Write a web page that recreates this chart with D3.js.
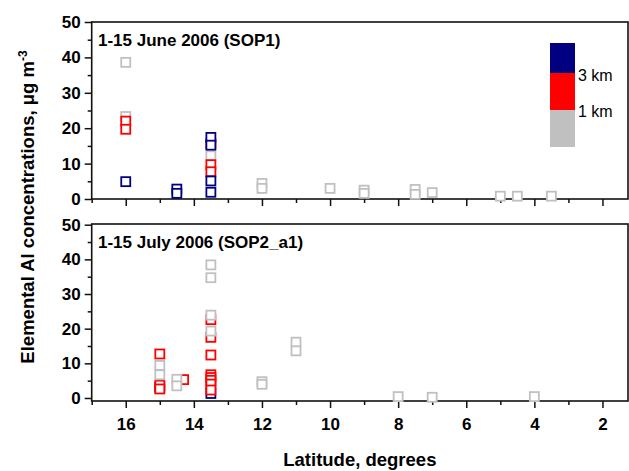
<!DOCTYPE html>
<html>
<head>
<meta charset="utf-8">
<script src="https://cdn.jsdelivr.net/npm/d3@7"></script>
<style>
  body { margin: 0; background: #fff; }
  svg text { font-family: "Liberation Sans", Arial, sans-serif; fill: #000; }
  .tick-label { font-size: 17px; font-weight: bold; }
  .axis-title { font-size: 18.5px; font-weight: bold; }
  .panel-title { font-size: 17px; font-weight: bold; }
  .legend-label { font-size: 16px; }
</style>
</head>
<body>
<svg id="chart"></svg>
<script>
// latitude ticks and concentration ticks
const latMajor = [16, 14, 12, 10, 8, 6, 4, 2];
const latMinor = [17, 15, 13, 11, 9, 7, 5, 3];
const alMajor = [0, 10, 20, 30, 40, 50];
const alMinor = [5, 15, 25, 35, 45];

// altitude classes
const layers = ['below1km', 'from1to3km', 'above3km'];
const layerColors = ['#c0c0c0', '#ff0000', '#000080'];
const legendLabels = ['3 km', '1 km'];

// 1-15 June 2006 (SOP1): [latitude, Al µg m-3]
const juneBelow1km = [[16, 38.6], [16, 23.3], [13.5, 12.2], [12, 4.4], [12, 3.0], [10, 3.0], [9, 2.5], [9, 1.6],
  [7.5, 2.7], [7.5, 1.3], [7, 1.8], [5, 0.8], [4.5, 0.8], [3.5, 0.8]];
const june1to3km = [[16, 22.0], [16, 19.7], [13.5, 15.7], [13.5, 9.7], [13.5, 7.7]];
const juneAbove3km = [[16, 4.9], [14.5, 2.8], [14.5, 1.6], [13.5, 17.4], [13.5, 15.2], [13.5, 5.1], [13.5, 1.9]];

// 1-15 July 2006 (SOP2_a1)
const julyBelow1km = [[15, 9.4], [15, 6.7], [14.5, 5.4], [14.5, 3.5], [13.5, 38.4], [13.5, 34.7], [13.5, 23.9],
  [13.5, 19.3], [12, 4.7], [12, 3.95], [11, 16.1], [11, 13.6], [8, 0.4], [7, 0.2], [4, 0.4]];
const july1to3km = [[15, 12.7], [15, 3.7], [15, 2.6], [14.3, 5.3], [13.5, 22.6], [13.5, 17.5], [13.5, 12.4],
  [13.5, 6.7], [13.5, 5.9], [13.5, 5.1], [13.5, 4.0], [13.5, 2.3]];
const julyAbove3km = [[15, 3.1], [13.5, 1.3]];

const W = 629, H = 471;
const left = 91.7, right = 628;

const svg = d3.select('#chart').attr('width', W).attr('height', H);

const xScale = d3.scaleLinear().domain([17, 1.25]).range([left, right]);

const panels = [
  {title: '1-15 June 2006 (SOP1)', top: 22, bottom: 199, domain: [0, 50],
    series: [juneBelow1km, june1to3km, juneAbove3km], order: [0, 1, 2], labels: false},
  {title: '1-15 July 2006 (SOP2_a1)', top: 224, bottom: 401, domain: [-0.87, 50.2],
    series: [julyBelow1km, july1to3km, julyAbove3km], order: [2, 1, 0], labels: true}
];

panels.forEach((p) => {
  const yScale = d3.scaleLinear().domain(p.domain).range([p.bottom, p.top]);
  const g = svg.append('g');

  // frame
  g.append('rect')
    .attr('x', left).attr('y', p.top)
    .attr('width', right - left).attr('height', p.bottom - p.top)
    .attr('fill', 'none').attr('stroke', '#111').attr('stroke-width', 1.6);

  // y axis
  const yAxis = d3.axisLeft(yScale).tickValues(alMajor).tickSize(7).tickSizeOuter(0).tickPadding(4);
  const yAxisG = g.append('g').attr('transform', `translate(${left},0)`).call(yAxis);
  yAxisG.select('.domain').remove();
  yAxisG.selectAll('line').attr('stroke', '#111').attr('stroke-width', 1.5);
  yAxisG.selectAll('text').attr('class', 'tick-label').attr('font-family', null).attr('font-size', null);
  const yMinorG = g.append('g').attr('transform', `translate(${left},0)`)
    .call(d3.axisLeft(yScale).tickValues(alMinor).tickSize(4).tickSizeOuter(0).tickFormat(''));
  yMinorG.select('.domain').remove();
  yMinorG.selectAll('line').attr('stroke', '#111').attr('stroke-width', 1.5);

  // x axis
  const xAxis = d3.axisBottom(xScale).tickValues(latMajor).tickSize(7).tickSizeOuter(0).tickPadding(10);
  if (!p.labels) xAxis.tickFormat('');
  const xAxisG = g.append('g').attr('transform', `translate(0,${p.bottom})`).call(xAxis);
  xAxisG.select('.domain').remove();
  xAxisG.selectAll('line').attr('stroke', '#111').attr('stroke-width', 1.5);
  xAxisG.selectAll('text').attr('class', 'tick-label').attr('font-family', null).attr('font-size', null);
  const xMinorG = g.append('g').attr('transform', `translate(0,${p.bottom})`)
    .call(d3.axisBottom(xScale).tickValues(latMinor).tickSize(4).tickSizeOuter(0).tickFormat(''));
  xMinorG.select('.domain').remove();
  xMinorG.selectAll('line').attr('stroke', '#111').attr('stroke-width', 1.5);

  // points
  const s = 9;
  p.order.forEach((i) => {
    g.append('g').attr('class', layers[i])
      .selectAll('rect')
      .data(p.series[i])
      .join('rect')
      .attr('x', (d) => xScale(d[0]) - s / 2)
      .attr('y', (d) => yScale(d[1]) - s / 2)
      .attr('width', s).attr('height', s)
      .attr('fill', '#fff')
      .attr('stroke', layerColors[i])
      .attr('stroke-width', 1.8);
  });

  g.append('text').attr('class', 'panel-title')
    .attr('x', 98).attr('y', p.top + 24).text(p.title);
});

// colour bar legend
const bar = [{c: layerColors[2], y0: 43, y1: 73}, {c: layerColors[1], y0: 73, y1: 110}, {c: layerColors[0], y0: 110, y1: 147}];
svg.append('g').selectAll('rect').data(bar).join('rect')
  .attr('x', 550).attr('width', 25)
  .attr('y', (d) => d.y0).attr('height', (d) => d.y1 - d.y0)
  .attr('fill', (d) => d.c);
svg.append('g').selectAll('text').data(legendLabels).join('text')
  .attr('class', 'legend-label')
  .attr('x', 578).attr('y', (d, i) => [75, 111][i]).attr('dy', '0.35em')
  .text((d) => d);

// axis titles
svg.append('text').attr('class', 'axis-title')
  .attr('x', (left + right) / 2).attr('y', 466)
  .attr('text-anchor', 'middle').text('Latitude, degrees');

const yt = svg.append('text').attr('class', 'axis-title')
  .attr('transform', 'translate(33.5,207) rotate(-90)')
  .attr('text-anchor', 'middle');
yt.append('tspan').text('Elemental Al concentrations, μg m');
yt.append('tspan').attr('dy', '-0.55em').style('font-size', '12px').text('-3');
</script>
</body>
</html>
